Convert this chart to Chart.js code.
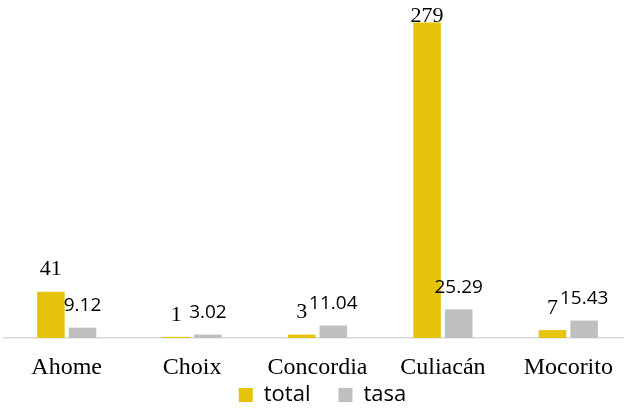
<!DOCTYPE html>
<html>
<head>
<meta charset="utf-8">
<script src="https://cdn.jsdelivr.net/npm/chart.js@4"></script>
<style>
html,body{margin:0;padding:0;background:#fff;overflow:hidden;}
#wrap{width:624px;height:410px;overflow:hidden;position:relative;}
#c{position:absolute;left:0;top:0;}
.pre{position:absolute;left:-1000px;top:0;}
</style>
</head>
<body>
<span class="pre" style="font-family:'Liberation Serif';font-size:22px;">279 Ahome</span>
<span class="pre" style="font-family:'Open Sans';font-size:19px;">25.29 total</span>
<div id="wrap"><canvas id="c" width="631" height="410"></canvas></div>
<script>
const categories = ["Ahome", "Choix", "Concordia", "Culiacán", "Mocorito"];
const totalValues = [41, 1, 3, 279, 7];
const tasaValues = [9.12, 3.02, 11.04, 25.29, 15.43];
const seriesNames = ["total", "tasa"];

const SERIF = '"Liberation Serif", "Times New Roman", serif';
const SANS = '"Open Sans", "Noto Sans", sans-serif';

const labelPlugin = {
  id: 'barLabels',
  afterLayout(chart) {
    const lg = chart.legend;
    if (lg) {
      lg.top -= 25;
      lg.height += 25;
      lg.left += 5;
      lg.right += 5;
    }
  },
  afterDatasetsDraw(chart) {
    const ctx = chart.ctx;
    chart.data.datasets.forEach((ds, di) => {
      const meta = chart.getDatasetMeta(di);
      meta.data.forEach((bar, i) => {
        const v = ds.data[i];
        const txt = di === 0 ? String(v) : v.toFixed(2);
        ctx.save();
        ctx.fillStyle = '#000';
        ctx.textAlign = 'center';
        ctx.textBaseline = 'middle';
        ctx.font = di === 0 ? ('22px ' + SERIF) : ('19px ' + SANS);
        let y = Math.max(bar.y - 22, 16);
        ctx.fillText(txt, bar.x, y);
        ctx.restore();
      });
    });
  }
};

const chart = new Chart(document.getElementById('c'), {
  type: 'bar',
  data: {
    labels: categories,
    datasets: [
      { label: seriesNames[0], data: totalValues, backgroundColor: '#E6C40C', categoryPercentage: 0.505, barPercentage: 0.87 },
      { label: seriesNames[1], data: tasaValues, backgroundColor: '#BFBFBF', categoryPercentage: 0.505, barPercentage: 0.87 }
    ]
  },
  options: {
    responsive: false,
    animation: false,
    layout: { padding: { left: 4, right: 0, top: 10, bottom: 0 } },
    plugins: {
      legend: {
        position: 'bottom',
        maxHeight: 29,
        labels: { boxWidth: 14, boxHeight: 14, color: '#000', font: { family: SANS, size: 22, lineHeight: 1 }, padding: 28 }
      },
      tooltip: { enabled: false }
    },
    scales: {
      x: {
        grid: { display: false, drawTicks: false },
        border: { color: '#D9D9D9', width: 1.5 },
        ticks: { color: '#000', font: { family: SERIF, size: 24, lineHeight: 1 }, padding: 18 },
        afterFit(scale) { scale.height = 43; }
      },
      y: { display: false, min: 0, max: 290 }
    }
  },
  plugins: [labelPlugin]
});

if (document.fonts && document.fonts.load) {
  Promise.all([
    document.fonts.load('22px "Liberation Serif"'),
    document.fonts.load('19px "Open Sans"')
  ]).then(() => chart.update('none')).catch(() => {});
}
</script>
</body>
</html>
